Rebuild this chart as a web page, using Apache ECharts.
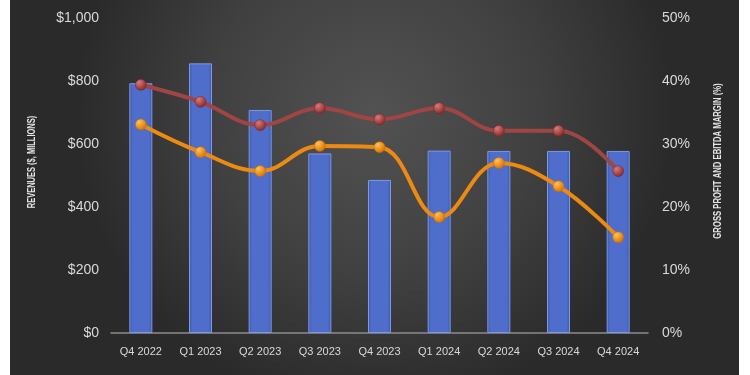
<!DOCTYPE html>
<html>
<head>
<meta charset="utf-8">
<script src="https://cdn.jsdelivr.net/npm/echarts@6/dist/echarts.min.js"></script>
<style>
html,body{margin:0;padding:0;background:#ffffff;}
#chart{width:750px;height:375px;}
</style>
</head>
<body>
<div id="chart"></div>
<script>
const categories = ['Q4 2022','Q1 2023','Q2 2023','Q3 2023','Q4 2023','Q1 2024','Q2 2024','Q3 2024','Q4 2024'];
const revenues = [793, 856, 708, 570, 486, 579, 578, 578, 578];
const grossMargin = [39.4, 36.7, 33.0, 35.7, 33.9, 35.7, 32.1, 32.1, 25.7];
const ebitdaMargin = [33.1, 28.7, 25.7, 29.7, 29.5, 18.4, 27.0, 23.3, 15.2];
const revenueTicks = [0, 200, 400, 600, 800, 1000];
const marginTicks = [0, 10, 20, 30, 40, 50];

const chart = echarts.init(document.getElementById('chart'), null, {renderer:'canvas'});
const font = 'Liberation Sans, Arial, sans-serif';
const nameFont = 'bold 10px "Liberation Sans", Arial, sans-serif';
const labelColor = '#d9d9d9';

function radial(c1, c2){
  return new echarts.graphic.RadialGradient(0.35, 0.3, 0.7, [
    {offset:0, color:c1},{offset:1, color:c2}
  ]);
}

chart.setOption({
  animation:false,
  backgroundColor:'#ffffff',
  graphic:[
    {type:'rect', z:-10, silent:true, shape:{x:10, y:0, width:729, height:375},
     style:{fill:new echarts.graphic.RadialGradient(0.5, 0.3, 0.8, [
       {offset:0, color:'#525252'},{offset:0.55, color:'#404040'},{offset:1, color:'#2a2a2a'}
     ])}},
    {type:'text', silent:true, rotation:Math.PI/2, scaleX:0.75,
     style:{text:'REVENUES ($, MILLIONS)', fill:'#e6e6e6', font:nameFont, textAlign:'center', textVerticalAlign:'middle'},
     x:32, y:162},
    {type:'text', silent:true, rotation:Math.PI/2, scaleX:0.77,
     style:{text:'GROSS PROFIT AND EBITDA MARGIN (%)', fill:'#e6e6e6', font:nameFont, textAlign:'center', textVerticalAlign:'middle'},
     x:718, y:161}
  ],
  grid:{left:111, right:102, top:18, bottom:42, containLabel:false},
  xAxis:{
    type:'category', data:categories,
    axisLine:{lineStyle:{color:'#8c8c8c', width:1.5}},
    axisTick:{show:false},
    axisLabel:{color:labelColor, fontSize:11, fontFamily:font, margin:13, interval:0},
    splitLine:{show:false}
  },
  yAxis:[
    {type:'value', min:revenueTicks[0], max:revenueTicks[revenueTicks.length-1], interval:200,
     axisLine:{show:false}, axisTick:{show:false}, splitLine:{show:false},
     axisLabel:{color:labelColor, fontSize:14, fontFamily:font, margin:12,
       formatter:v=>'$'+v.toLocaleString('en-US')}},
    {type:'value', min:marginTicks[0], max:marginTicks[marginTicks.length-1], interval:10,
     axisLine:{show:false}, axisTick:{show:false}, splitLine:{show:false},
     axisLabel:{color:labelColor, fontSize:14, fontFamily:font, margin:14,
       formatter:v=>v+'%'}}
  ],
  series:[
    {type:'bar', name:'Revenues', data:revenues, yAxisIndex:0, barWidth:23,
     itemStyle:{
       color:new echarts.graphic.LinearGradient(0,0,1,0,[
         {offset:0, color:'#3b57ad'},{offset:0.15, color:'#4f6ecb'},
         {offset:0.85, color:'#4f6ecb'},{offset:1, color:'#3b57ad'}]),
       borderColor:'#7f98e2', borderWidth:1
     }},
    {type:'line', name:'Gross Profit Margin', data:grossMargin, yAxisIndex:1, smooth:0.4,
     lineStyle:{color:'#a04444', width:4},
     symbol:'circle', symbolSize:11,
     itemStyle:{color:radial('#d97a7a','#8a2a2a'), borderColor:'#7a2525', borderWidth:0.5}},
    {type:'line', name:'EBITDA Margin', data:ebitdaMargin, yAxisIndex:1, smooth:0.4,
     lineStyle:{color:'#ec8a12', width:4},
     symbol:'circle', symbolSize:11,
     itemStyle:{color:radial('#ffc25a','#d97500'), borderColor:'#c46a00', borderWidth:0.5}}
  ]
});
</script>
</body>
</html>
